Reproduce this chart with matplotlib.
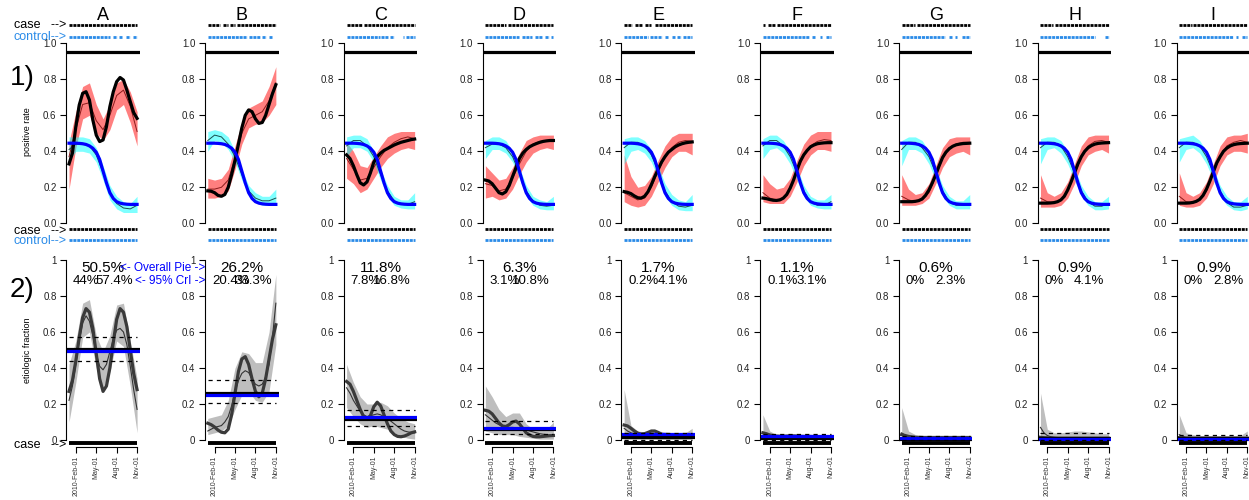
import numpy as np
import matplotlib
matplotlib.use("Agg")
import matplotlib.pyplot as plt

plt.rcParams['font.family'] = ['Liberation Sans', 'DejaVu Sans']
plt.rcParams['lines.scale_dashes'] = False

# --- datos ---
paneles = ['A', 'B', 'C', 'D', 'E', 'F', 'G', 'H', 'I']
t_fino = np.arange(21) * 0.5      # meses desde 2010-Jan-01, cada medio mes
t_grueso = np.arange(11)          # cada mes
meses_ticks = [1, 4, 7, 10]
meses_labels = ['2010-Feb-01', 'May-01', 'Aug-01', 'Nov-01']

# fila 1: tasa positiva, casos (verdad) y controles (verdad)
caso_real = [
    [.33, .39, .537, .657, .722, .731, .685, .574, .49, .454, .463, .537, .648, .73, .787, .81, .796, .74, .676, .615, .583],
    [.18, .178, .17, .155, .15, .16, .20, .27, .35, .44, .53, .60, .63, .62, .58, .555, .56, .60, .66, .72, .77],
    [.38, .36, .32, .27, .225, .213, .23, .28, .34, .37, .39, .405, .415, .425, .435, .443, .45, .455, .46, .465, .468],
    [.24, .235, .22, .195, .17, .163, .175, .21, .26, .31, .36, .39, .41, .425, .435, .443, .45, .455, .458, .46, .46],
    [.176, .172, .165, .152, .142, .14, .15, .175, .215, .26, .30, .34, .37, .395, .41, .425, .435, .442, .447, .45, .452],
    [.14, .137, .132, .128, .127, .13, .14, .16, .195, .24, .295, .345, .38, .405, .425, .435, .442, .445, .447, .448, .448],
    [.12, .12, .12, .12, .122, .126, .135, .155, .185, .225, .27, .32, .365, .395, .415, .428, .436, .44, .443, .444, .445],
    [.112, .112, .112, .113, .115, .12, .13, .15, .185, .23, .28, .33, .37, .40, .42, .432, .44, .444, .446, .447, .448],
    [.112, .112, .112, .113, .116, .122, .133, .155, .19, .235, .285, .335, .37, .40, .418, .43, .437, .441, .443, .444, .445],
]
control_real = [.445, .445, .445, .444, .442, .438, .430, .417, .395, .355, .29, .225, .17, .138, .12, .112, .108, .106, .105, .105, .105]

# ajustes (media y banda 95%) por mes
caso_fit = [
    [.37, .52, .66, .67, .57, .52, .60, .71, .74, .65, .51],
    [.19, .19, .20, .24, .36, .50, .58, .60, .62, .68, .78],
    [.36, .30, .24, .25, .31, .37, .42, .45, .47, .48, .47],
    [.22, .21, .18, .19, .25, .33, .40, .44, .455, .46, .46],
    [.17, .15, .13, .14, .20, .29, .37, .42, .45, .46, .455],
    [.17, .14, .13, .14, .19, .29, .38, .43, .455, .465, .46],
    [.15, .13, .12, .13, .17, .26, .36, .42, .44, .45, .45],
    [.14, .12, .115, .13, .18, .27, .37, .43, .455, .46, .45],
    [.15, .12, .115, .13, .18, .28, .37, .43, .45, .46, .45],
]
caso_lo = [
    [.19, .42, .58, .60, .50, .46, .52, .63, .66, .56, .43],
    [.14, .14, .15, .18, .30, .44, .53, .55, .56, .60, .66],
    [.25, .22, .17, .19, .25, .31, .36, .39, .41, .42, .41],
    [.14, .15, .13, .14, .19, .27, .34, .39, .41, .42, .41],
    [.12, .10, .09, .10, .15, .23, .31, .37, .40, .40, .38],
    [.12, .11, .11, .11, .15, .23, .32, .38, .41, .41, .40],
    [.10, .10, .10, .11, .14, .22, .31, .37, .39, .40, .38],
    [.09, .09, .09, .10, .14, .22, .32, .38, .40, .41, .39],
    [.10, .09, .09, .10, .14, .22, .32, .38, .40, .40, .39],
]
caso_hi = [
    [.45, .62, .76, .78, .66, .58, .66, .78, .80, .73, .62],
    [.25, .24, .25, .30, .43, .56, .64, .66, .68, .76, .87],
    [.45, .40, .32, .31, .37, .43, .48, .50, .51, .51, .51],
    [.32, .28, .24, .25, .31, .39, .46, .48, .49, .49, .49],
    [.38, .26, .20, .21, .26, .35, .43, .48, .50, .50, .50],
    [.27, .22, .19, .20, .25, .35, .44, .49, .51, .51, .51],
    [.27, .19, .16, .17, .22, .32, .42, .47, .48, .48, .48],
    [.27, .17, .15, .17, .23, .33, .43, .48, .49, .49, .49],
    [.28, .17, .15, .17, .23, .33, .43, .48, .49, .49, .50],
]
ctrl_fit = [
    [.41, .44, .44, .43, .38, .28, .17, .11, .085, .08, .10],
    [.46, .49, .48, .44, .37, .27, .18, .14, .125, .125, .14],
    [.43, .46, .46, .43, .37, .27, .18, .125, .105, .105, .12],
    [.42, .44, .44, .42, .37, .28, .18, .125, .10, .095, .10],
    [.42, .45, .45, .43, .38, .29, .18, .12, .095, .09, .10],
    [.43, .46, .46, .43, .37, .28, .18, .12, .10, .10, .12],
    [.41, .45, .45, .42, .37, .28, .18, .12, .10, .10, .11],
    [.42, .45, .45, .43, .37, .28, .18, .12, .095, .095, .11],
    [.42, .45, .45, .43, .37, .28, .18, .115, .09, .09, .10],
]
ctrl_lo = [
    [.35, .40, .40, .39, .34, .24, .13, .08, .06, .06, .06],
    [.40, .46, .45, .41, .34, .24, .16, .12, .10, .10, .10],
    [.37, .42, .42, .40, .34, .24, .15, .10, .085, .08, .08],
    [.36, .41, .41, .39, .34, .25, .15, .10, .08, .075, .075],
    [.33, .40, .41, .39, .34, .25, .15, .10, .075, .07, .07],
    [.36, .41, .42, .39, .33, .24, .15, .10, .085, .08, .08],
    [.32, .41, .41, .39, .33, .24, .15, .10, .08, .08, .08],
    [.33, .41, .42, .39, .33, .24, .15, .10, .075, .075, .08],
    [.34, .41, .42, .39, .33, .24, .15, .10, .075, .07, .08],
]
ctrl_hi = [
    [.48, .48, .48, .47, .42, .32, .21, .15, .12, .11, .15],
    [.51, .52, .51, .48, .40, .30, .21, .17, .15, .15, .19],
    [.48, .49, .49, .47, .40, .30, .21, .15, .13, .13, .17],
    [.46, .48, .48, .46, .40, .31, .21, .15, .13, .12, .15],
    [.47, .48, .48, .46, .41, .32, .22, .16, .13, .12, .16],
    [.47, .49, .49, .46, .40, .31, .21, .15, .13, .13, .16],
    [.46, .48, .48, .46, .40, .31, .21, .15, .125, .125, .16],
    [.47, .48, .48, .46, .40, .31, .21, .15, .12, .12, .15],
    [.47, .48, .49, .46, .40, .31, .21, .15, .12, .12, .15],
]

# etiquetas del eje y en la fila 1 (el panel F no muestra 0.6)
yt_fila1 = [['0.0', '0.2', '0.4', '0.6', '0.8', '1.0']] * 5 + [['0.0', '0.2', '0.4', '', '0.8', '1.0']] + [['0.0', '0.2', '0.4', '0.6', '0.8', '1.0']] * 3

# fila 2: fraccion etiologica
ef_real = [
    [.27, .33, .44, .57, .68, .73, .71, .62, .48, .34, .27, .30, .40, .54, .67, .73, .71, .63, .50, .37, .28],
    [.093, .085, .072, .055, .043, .04, .06, .14, .26, .38, .45, .463, .42, .34, .27, .24, .26, .34, .45, .56, .64],
    [.325, .31, .27, .22, .17, .13, .115, .135, .185, .21, .19, .14, .09, .05, .03, .02, .018, .022, .03, .04, .045],
    [.165, .16, .145, .12, .095, .078, .075, .085, .10, .105, .09, .065, .04, .028, .02, .018, .018, .02, .022, .024, .025],
    [.083, .078, .065, .05, .038, .033, .035, .042, .05, .05, .042, .032, .025, .02, .018, .017, .017, .018, .019, .02, .02],
    [.04, .035, .028, .024, .022, .021, .021, .022, .023, .023, .022, .021, .02, .02, .02, .019, .019, .019, .019, .019, .019],
    [.03, .025, .02, .017, .015, .014, .014, .014, .014, .014, .014, .014, .014, .014, .014, .014, .014, .014, .014, .014, .014],
    [.015, .013, .012, .011, .011, .01, .01, .01, .01, .01, .01, .01, .01, .01, .01, .01, .01, .01, .01, .01, .01],
    [.013, .012, .011, .011, .01, .01, .01, .01, .01, .01, .01, .01, .01, .01, .01, .01, .01, .01, .01, .01, .01],
]
ef_fit = [
    [.22, .30, .42, .55, .65, .69, .66, .58, .48, .41, .39, .42, .49, .56, .61, .62, .60, .53, .41, .28, .17],
    [.05, .06, .07, .075, .08, .10, .13, .19, .27, .33, .37, .385, .375, .34, .31, .30, .31, .35, .42, .57, .76],
    [.29, .26, .22, .19, .16, .14, .13, .135, .14, .145, .14, .13, .12, .105, .09, .075, .06, .05, .045, .042, .04],
    [.14, .125, .11, .095, .085, .077, .072, .07, .07, .068, .065, .06, .055, .05, .045, .04, .035, .032, .03, .027, .025],
    [.065, .05, .04, .034, .03, .028, .027, .027, .027, .026, .025, .024, .023, .022, .021, .02, .02, .02, .02, .02, .02],
    [.035, .028, .022, .018, .016, .015, .015, .015, .015, .015, .014, .014, .014, .013, .013, .013, .013, .013, .013, .013, .013],
    [.04, .025, .015, .01, .008, .007, .006, .006, .006, .006, .006, .006, .006, .006, .006, .006, .006, .006, .006, .006, .006],
    [.07, .04, .025, .018, .014, .012, .011, .01, .01, .01, .01, .01, .01, .01, .01, .01, .01, .01, .01, .01, .01],
    [.03, .02, .013, .01, .009, .008, .008, .008, .008, .008, .008, .008, .008, .008, .008, .008, .008, .008, .008, .008, .008],
]
ef_lo = [
    [.10, .32, .57, .60, .40, .29, .38, .55, .52, .30, .04],
    [.03, .04, .05, .08, .17, .25, .27, .22, .21, .27, .53],
    [.18, .13, .09, .07, .08, .07, .06, .04, .02, .01, .005],
    [.05, .04, .03, .03, .03, .02, .015, .01, .005, .005, .005],
    [.005, .005, .004, .004, .004, .003, .003, .003, .003, .003, .003],
    [.002, .002, .002, .002, .002, .002, .002, .002, .002, .002, .002],
    [.001, .001, .001, .001, .001, .001, .001, .001, .001, .001, .001],
    [0, 0, 0, 0, 0, 0, 0, 0, 0, 0, 0],
    [0, 0, 0, 0, 0, 0, 0, 0, 0, 0, 0],
]
ef_hi = [
    [.42, .55, .76, .78, .58, .49, .58, .75, .76, .55, .34],
    [.12, .13, .14, .22, .40, .49, .48, .43, .43, .60, .92],
    [.42, .32, .24, .20, .20, .21, .19, .15, .12, .10, .09],
    [.30, .24, .17, .13, .15, .15, .09, .06, .055, .06, .10],
    [.28, .08, .05, .045, .05, .05, .045, .04, .04, .04, .065],
    [.14, .05, .03, .03, .03, .03, .03, .03, .03, .03, .03],
    [.18, .05, .03, .025, .025, .025, .025, .025, .025, .025, .025],
    [.26, .06, .04, .04, .045, .05, .05, .045, .04, .035, .035],
    [.14, .04, .03, .025, .025, .025, .025, .025, .025, .025, .05],
]
pie_est = [.505, .262, .118, .063, .017, .011, .006, .009, .009]
pie_lo = [.44, .204, .078, .031, .002, .001, 0.0, 0.0, 0.0]
pie_hi = [.574, .333, .168, .108, .041, .031, .023, .041, .028]
pie_real = [.495, .248, .13, .066, .033, .021, .012, .004, .004]
txt_est = ['50.5%', '26.2%', '11.8%', '6.3%', '1.7%', '1.1%', '0.6%', '0.9%', '0.9%']
txt_lo = ['44%', '20.4%', '7.8%', '3.1%', '0.2%', '0.1%', '0%', '0%', '0%']
txt_hi = ['57.4%', '33.3%', '16.8%', '10.8%', '4.1%', '3.1%', '2.3%', '4.1%', '2.8%']

# marcas de observaciones (intervalos en meses) arriba de la fila 1
caso_obs = [
    [(0, 10)],
    [(0, 1.8), (2.2, 3), (3.3, 4), (4.3, 10)],
    [(0, 2.2), (2.5, 10)],
    [(0, 3), (3.3, 10)],
    [(0, 1.1), (1.6, 2.6), (3, 4), (4.5, 10)],
    [(0, 0.3), (0.8, 1.8), (2, 10)],
    [(0, 2), (2.2, 10)],
    [(0, 1.9), (2.1, 10)],
    [(0, 1.8), (2, 10)],
]
ctrl_obs = [
    [(0, 6), (6.5, 7), (7.4, 7.8), (8.3, 9), (9.4, 10)],
    [(0, 5.7), (6, 7.7), (8, 8.5), (9, 9.5)],
    [(0, 4.9), (5.1, 6.1), (6.4, 6.9), (8.3, 8.5), (8.8, 10)],
    [(0, 4.9), (5.4, 6.8), (7.3, 8.3), (8.8, 9.3), (9.6, 10)],
    [(0, 3.5), (3.8, 4.8), (5, 5.5), (6, 6.5), (7, 7.5), (7.7, 8.3), (8.7, 10)],
    [(0, 6.7), (7.2, 7.7), (8.4, 8.7), (9.2, 10)],
    [(0, 6.4), (6.9, 7.4), (7.9, 8.1), (8.9, 10)],
    [(0, 8), (9.5, 10)],
    [(0, 7.9), (8.4, 8.6), (9.2, 10)],
]

# --- figura ---
W, H = 1249, 500
fig = plt.figure(figsize=(12.49, 5), dpi=100)

def ejes(left, top, width, height):
    return fig.add_axes([left / W, 1 - (top + height) / H, width / W, height / H])

azul_ctrl = '#2a8be8'
col_w = 138.78
x0 = 66.3
ax_w = 73.5
alto = 194.4

def rug(ax, intervalos, y, color, lw, punteado=True):
    for a, b in intervalos:
        ln, = ax.plot([a, b], [y, y], color=color, lw=lw, clip_on=False,
                      solid_capstyle='butt', dash_capstyle='butt')
        if punteado:
            ln.set_dashes((2.2, 0.6))

for k in range(9):
    left = x0 + k * col_w
    # ---- fila 1 ----
    ax = ejes(left, 36.1, ax_w, alto)
    ax.set_xlim(-0.4, 10.4)
    ax.set_ylim(-0.04, 1.04)
    ax.fill_between(t_grueso, caso_lo[k], caso_hi[k], color='#ff0000', alpha=0.5, lw=0)
    ax.plot(t_grueso, caso_fit[k], color='#8b1a1a', lw=0.7)
    ax.fill_between(t_grueso, ctrl_lo[k], ctrl_hi[k], color='#00ffff', alpha=0.5, lw=0)
    ax.plot(t_grueso, ctrl_fit[k], color='#1a4d4d', lw=0.7)
    ax.plot(t_fino, caso_real[k], color='black', lw=2.3)
    ax.plot(t_fino, control_real, color='#0000ff', lw=2.3)
    ax.axhline(0.95, color='black', lw=2.3)
    rug(ax, caso_obs[k], 1.10, 'black', 2.0)
    rug(ax, ctrl_obs[k], 1.035, azul_ctrl, 2.0)
    rug(ax, [(0, 10)], -0.032, 'black', 2.0)
    rug(ax, [(0, 10)], -0.093, azul_ctrl, 2.0)
    for s in ['top', 'right', 'bottom']:
        ax.spines[s].set_visible(False)
    ax.spines['left'].set_bounds(0, 1)
    ax.spines['left'].set_linewidth(0.8)
    ax.set_yticks([0, 0.2, 0.4, 0.6, 0.8, 1.0])
    ax.set_yticklabels(yt_fila1[k])
    ax.tick_params(axis='y', length=4, width=0.8, labelsize=7, pad=3, labelcolor='#222222')
    ax.set_xticks([])
    fig.text((left + ax_w / 2) / W, 1 - 15 / H, paneles[k], ha='center', va='center', fontsize=13)

    if k == 0:
        ax.text(-0.4, 1.10, 'case   -->', ha='right', va='center', fontsize=9, clip_on=False)
        ax.text(-0.4, 1.035, 'control-->', ha='right', va='center', fontsize=9, color=azul_ctrl, clip_on=False)
        ax.text(-0.4, -0.045, 'case   -->', ha='right', va='center', fontsize=9, clip_on=False)
        ax.text(-0.4, -0.1, 'control-->', ha='right', va='center', fontsize=9, color=azul_ctrl, clip_on=False)

    # ---- fila 2 ----
    ax2 = ejes(left, 252.8, ax_w, alto)
    ax2.set_xlim(-0.4, 10.4)
    ax2.set_ylim(-0.04, 1.04)
    ax2.fill_between(t_grueso, ef_lo[k], ef_hi[k], color='#bebebe', lw=0)
    ax2.plot(t_fino, ef_fit[k], color='#333333', lw=0.8)
    ax2.plot(t_fino, ef_real[k], color='#3a3a3a', lw=2.3)
    ax2.axhline(pie_est[k], color='black', lw=2.3)
    ax2.axhline(pie_real[k], color='#0000ff', lw=2.3)
    ax2.hlines([pie_lo[k], pie_hi[k]], 0, 10, colors='black', lw=0.9, linestyles=[(0, (3, 3))])
    rug(ax2, [(0, 10)], -0.017, 'black', 2.8, punteado=False)
    ax2.text(5.0, 0.956, txt_est[k], ha='center', va='center', fontsize=11, clip_on=False)
    ax2.text(0.6, 0.886, txt_lo[k], ha='left', va='center', fontsize=9.5, clip_on=False)
    ax2.text(9.4, 0.886, txt_hi[k], ha='right', va='center', fontsize=9.5, clip_on=False)
    for s in ['top', 'right']:
        ax2.spines[s].set_visible(False)
    ax2.spines['left'].set_bounds(0, 1)
    ax2.spines['bottom'].set_bounds(1, 10)
    ax2.spines['left'].set_linewidth(0.8)
    ax2.spines['bottom'].set_linewidth(0.8)
    ax2.set_yticks([0, 0.2, 0.4, 0.6, 0.8, 1.0])
    ax2.set_yticklabels(['0', '0.2', '0.4', '0.6', '0.8', '1'])
    ax2.tick_params(axis='y', length=4, width=0.8, labelsize=7, pad=3, labelcolor='#222222')
    ax2.set_xticks(meses_ticks)
    ax2.set_xticklabels(meses_labels, rotation=90, fontsize=5, color='#333333')
    ax2.tick_params(axis='x', length=4, width=0.8, pad=2)

    if k == 0:
        ax2.text(-0.4, -0.028, 'case   -->', ha='right', va='center', fontsize=9, clip_on=False)
        ax2.text(20.0, 0.956, '<- Overall Pie ->', ha='right', va='center', fontsize=8.5, color='#0000ff', clip_on=False)
        ax2.text(20.0, 0.886, '<- 95% CrI ->', ha='right', va='center', fontsize=8.5, color='#0000ff', clip_on=False)

fig.text(10 / W, 1 - 78 / H, '1)', ha='left', va='center', fontsize=20)
fig.text(10 / W, 1 - 290 / H, '2)', ha='left', va='center', fontsize=20)
fig.text(27 / W, 1 - 132 / H, 'positive rate', rotation=90, ha='center', va='center', fontsize=6.5)
fig.text(27 / W, 1 - 350 / H, 'etiologic fraction', rotation=90, ha='center', va='center', fontsize=6.5)

fig.savefig('out.png', dpi=100)
